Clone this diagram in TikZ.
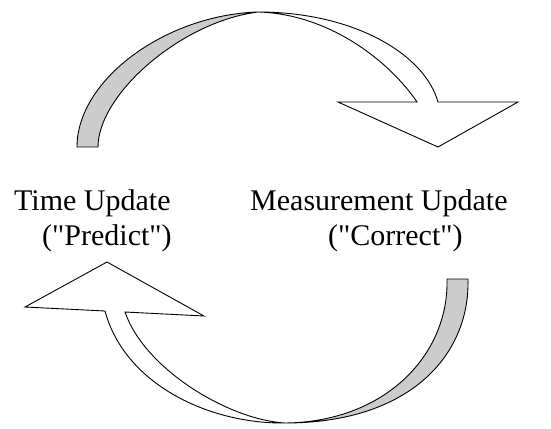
\documentclass[tikz,border=0pt]{standalone}
\usepackage{fontspec}
\setmainfont{Liberation Serif}[Ligatures=TeXOff]
\begin{document}
\begin{tikzpicture}[x=1pt,y=-1pt,
  outline/.style={draw=black, line width=0.9pt, line join=miter},
  backside/.style={fill=black!20},
  lbl/.style={font=\fontsize{30}{35}\selectfont, anchor=base west, inner sep=0pt}]
\useasboundingbox (0,0) rectangle (551,428);
% ---- top arrow (Time Update -> Measurement Update)
\coordinate (P) at (258,12);
\fill[backside] (77,147) .. controls (77,80) and (165,15) .. (P)
  .. controls (180,22) and (98,95) .. (98,147) -- cycle;
\draw[outline] (77,147) .. controls (77,80) and (165,15) .. (P)
  .. controls (355,12) and (425,55) .. (438,102) -- (518,102) -- (438,147)
  -- (338,102) -- (417,102)
  .. controls (390,62) and (330,14) .. (P)
  .. controls (180,22) and (98,95) .. (98,147) -- cycle;
% ---- bottom arrow (Measurement Update -> Time Update)
\coordinate (Q) at (285,423);
\fill[backside] (468,279) .. controls (470,355) and (410,423) .. (Q)
  .. controls (385,422) and (449,355) .. (447,279) -- cycle;
\draw[outline] (468,279) .. controls (470,355) and (410,423) .. (Q)
  .. controls (210,424) and (125,385) .. (105,311) -- (25,307) -- (107,262)
  -- (204,316) -- (125,312)
  .. controls (145,370) and (230,420) .. (Q)
  .. controls (385,422) and (449,355) .. (447,279) -- cycle;
% ---- labels
\node[lbl] (tu) at (14,210) {Time Update};
\node[lbl] (tp) at (42,245) {("Predict")};
\node[lbl] (mu) at (250,210) {Measurement Update};
\node[lbl] (mc) at (328,245) {("Correct")};
\end{tikzpicture}
\end{document}
